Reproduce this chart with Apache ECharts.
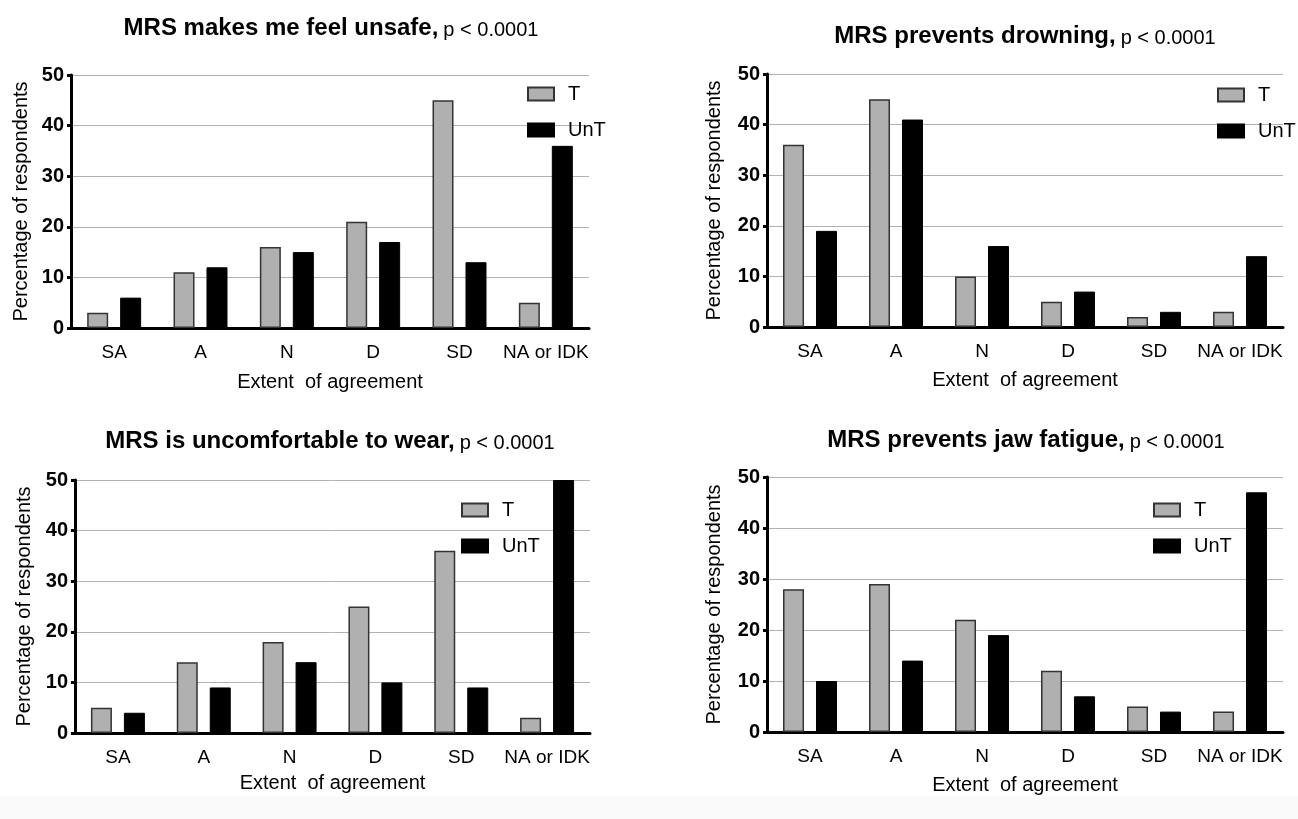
<!DOCTYPE html>
<html lang="en">
<head>
    <meta charset="UTF-8">
    <title>MRS survey responses</title>
    <script src="https://cdn.jsdelivr.net/npm/echarts@6/dist/echarts.min.js"></script>
    <style>
        html, body { margin: 0; padding: 0; background: #fff; }
        #chart { width: 1298px; height: 819px; }
    </style>
</head>
<body>
    <div id="chart"></div>

    <script>
        // categories and series
        const categories = ['SA', 'A', 'N', 'D', 'SD', 'NA or IDK'];
        const seriesNames = ['T', 'UnT'];
        const yTicks = [0, 10, 20, 30, 40, 50];

        const titles = [
            'MRS makes me feel unsafe,',
            'MRS prevents drowning,',
            'MRS is uncomfortable to wear,',
            'MRS prevents jaw fatigue,'
        ];
        const pValue = 'p < 0.0001';

        const unsafeT = [3, 11, 16, 21, 45, 5];
        const unsafeUnT = [6, 12, 15, 17, 13, 36];
        const drowningT = [36, 45, 10, 5, 2, 3];
        const drowningUnT = [19, 41, 16, 7, 3, 14];
        const uncomfortableT = [5, 14, 18, 25, 36, 3];
        const uncomfortableUnT = [4, 9, 14, 10, 9, 50];
        const jawT = [28, 29, 22, 12, 5, 4];
        const jawUnT = [10, 14, 19, 7, 4, 47];

        const panelData = [
            [unsafeT, unsafeUnT],
            [drowningT, drowningUnT],
            [uncomfortableT, uncomfortableUnT],
            [jawT, jawUnT]
        ];

        // layout of each panel (pixels)
        const layout = [
            { left: 71,  top: 75,  width: 518, height: 253, titleX: 326,  titleY: 11,  legendX: 522,  legendY: 79,  yGap: 40, xGap: 44 },
            { left: 767, top: 74,  width: 516, height: 253, titleX: 1020, titleY: 19,  legendX: 1212, legendY: 80,  yGap: 43, xGap: 43 },
            { left: 75,  top: 480, width: 515, height: 253, titleX: 325,  titleY: 424, legendX: 456,  legendY: 495, yGap: 41, xGap: 40 },
            { left: 767, top: 477, width: 516, height: 255, titleX: 1021, titleY: 423, legendX: 1148, legendY: 495, yGap: 43, xGap: 43 }
        ];

        const font = "'Liberation Sans', Arial, Helvetica, sans-serif";
        const barStyles = [
            { color: '#b0b0b0', borderColor: '#333', borderWidth: 1.5 },
            { color: '#000', borderColor: '#000', borderWidth: 1 }
        ];

        const chart = echarts.init(document.getElementById('chart'));

        const option = {
            backgroundColor: '#fff',
            animation: false,
            textStyle: { fontFamily: font },
            graphic: [{
                type: 'rect',
                shape: { x: 0, y: 796, width: 1298, height: 23 },
                style: { fill: '#fafafa' },
                silent: true,
                z: -10
            }],
            title: [],
            legend: [],
            grid: [],
            xAxis: [],
            yAxis: [],
            series: []
        };

        layout.forEach((p, i) => {
            option.title.push({
                text: '{b|' + titles[i] + '} {p|' + pValue + '}',
                left: p.titleX,
                top: p.titleY,
                textAlign: 'center',
                textStyle: {
                    fontWeight: 'normal',
                    rich: {
                        b: { fontFamily: font, fontSize: 24, fontWeight: 'bold', color: '#000', verticalAlign: 'bottom' },
                        p: { fontFamily: font, fontSize: 20, fontWeight: 'normal', color: '#000', verticalAlign: 'bottom' }
                    }
                }
            });

            option.legend.push({
                data: seriesNames,
                orient: 'vertical',
                left: p.legendX,
                top: p.legendY,
                icon: 'rect',
                itemWidth: 26,
                itemHeight: 13,
                itemGap: 16,
                selectedMode: false,
                textStyle: { fontFamily: font, fontSize: 20, color: '#000', lineHeight: 20, padding: [0, 0, 0, 9] }
            });

            option.grid.push({
                left: p.left,
                top: p.top,
                width: p.width,
                height: p.height,
                containLabel: false
            });

            option.xAxis.push({
                type: 'category',
                gridIndex: i,
                data: categories,
                name: 'Extent  of agreement',
                nameLocation: 'middle',
                nameGap: p.xGap,
                nameTextStyle: { fontFamily: font, fontSize: 20, color: '#000' },
                axisLine: { lineStyle: { color: '#000', width: 3 } },
                axisTick: { alignWithLabel: true, length: 7, lineStyle: { color: '#000', width: 3 } },
                axisLabel: { fontFamily: font, fontSize: 19, color: '#000', margin: 15, interval: 0 },
                splitLine: { show: false }
            });

            option.yAxis.push({
                type: 'value',
                gridIndex: i,
                min: yTicks[0],
                max: yTicks[yTicks.length - 1],
                interval: yTicks[1] - yTicks[0],
                name: 'Percentage of respondents',
                nameLocation: 'middle',
                nameGap: p.yGap,
                nameTextStyle: { fontFamily: font, fontSize: 20, color: '#000' },
                axisLine: { show: true, lineStyle: { color: '#000', width: 3 } },
                axisTick: { show: true, length: 4, lineStyle: { color: '#000', width: 3 } },
                axisLabel: { fontFamily: font, fontSize: 20, fontWeight: 'bold', color: '#000', margin: 7 },
                splitLine: { show: true, lineStyle: { color: '#b2b2b2', width: 1 } }
            });

            panelData[i].forEach((values, s) => {
                option.series.push({
                    name: seriesNames[s],
                    type: 'bar',
                    xAxisIndex: i,
                    yAxisIndex: i,
                    data: values,
                    barWidth: 21,
                    barGap: '57%',
                    itemStyle: barStyles[s],
                    emphasis: { disabled: true }
                });
            });
        });

        chart.setOption(option);
        window.addEventListener('resize', () => chart.resize());
    </script>
</body>
</html>
